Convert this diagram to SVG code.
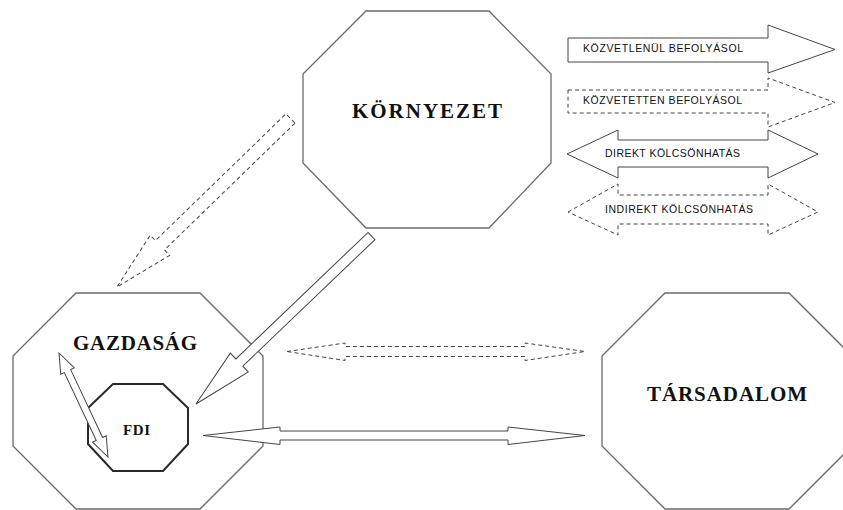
<svg xmlns="http://www.w3.org/2000/svg" width="843" height="510" viewBox="0 0 843 510">
<style>
.oct{fill:#fff;stroke:#6a6a6a;stroke-width:1.3}
.fdi{fill:#fff;stroke:#2a2a2a;stroke-width:2}
.lbl{font-family:"Liberation Serif","Times New Roman",serif;font-weight:bold;fill:#111;text-anchor:start}
.arr{fill:#fff;stroke:#444;stroke-width:1;stroke-linejoin:miter}
.dash{fill:#fff;stroke:#444;stroke-width:1;stroke-dasharray:4 3}
.leg{font-family:"Liberation Sans",Arial,sans-serif;font-size:10.5px;fill:#111}
</style>
<rect width="843" height="510" fill="#fff"/>
<g id="kornyezet">
<polygon class="oct" points="366,11 489,11 551,74 551,163 489,228 366,228 303,163 303,74"/>
<text class="lbl" x="352" y="118" font-size="21" textLength="150" lengthAdjust="spacing">KÖRNYEZET</text>
</g>
<g id="gazdasag">
<polygon class="oct" points="76,293 200,293 263,356 263,446 200,509 76,509 13,446 13,356"/>
<text class="lbl" x="73" y="350" font-size="21" textLength="124" lengthAdjust="spacing">GAZDASÁG</text>
</g>
<g id="tarsadalom">
<polygon class="oct" points="665,293 789,293 852,356 852,446 789,509 665,509 602,446 602,356"/>
<text class="lbl" x="647" y="401" font-size="21" textLength="160" lengthAdjust="spacing">TÁRSADALOM</text>
</g>
<g id="fdi">
<polygon class="fdi" points="113,384 163,384 188,408 188,444 163,471 113,471 88,444 88,408"/>
<text class="lbl" x="123" y="435" font-size="15" textLength="27" lengthAdjust="spacing">FDI</text>
</g>
<g id="connectors">
<polygon class="dash" transform="translate(290.5,118.5) rotate(135.84)" points="0,-6.5 182,-6.5 182,-14 242,0 182,14 182,6.5 0,6.5"/>
<polygon class="arr" transform="translate(371.5,236) rotate(136.25)" points="0,-5 183,-5 183,-13 243,0 183,13 183,5 0,5"/>
<polygon class="dash" points="287,351.5 345,343 345,346.5 525,346.5 525,343 585,351.5 525,360.5 525,356.5 345,356.5 345,360.5"/>
<polygon class="arr" points="203,435.5 280,427 280,431 508,431 508,427 585,435.5 508,444.5 508,440 280,440 280,444.5"/>
<polygon class="arr" transform="translate(59,353) rotate(64.8)" points="0,0 20,-7.5 20,-3.5 95,-3.5 95,-7.5 115,0 95,7.5 95,3.5 20,3.5 20,7.5"/>
</g>
<g id="legend">
<polygon class="arr" points="568,38 768,38 768,25 835,49.5 768,73 768,62 568,62"/>
<text class="leg" x="583" y="52" textLength="160" lengthAdjust="spacing">KÖZVETLENÜL BEFOLYÁSOL</text>
<polygon class="dash" points="568,90 768,90 768,78 835,102.5 768,127 768,113 568,113"/>
<text class="leg" x="583" y="104" textLength="159" lengthAdjust="spacing">KÖZVETETTEN BEFOLYÁSOL</text>
<polygon class="arr" points="567,154 618,130 618,140 768,140 768,130 818,154 768,178 768,167 618,167 618,178"/>
<text class="leg" x="605" y="157" textLength="135" lengthAdjust="spacing">DIREKT KÖLCSÖNHATÁS</text>
<polygon class="dash" points="568,212 618,184 618,195 768,195 768,184 818,212 768,235 768,224 618,224 618,235"/>
<text class="leg" x="605" y="213" textLength="148" lengthAdjust="spacing">INDIREKT KÖLCSÖNHATÁS</text>
</g>
</svg>
